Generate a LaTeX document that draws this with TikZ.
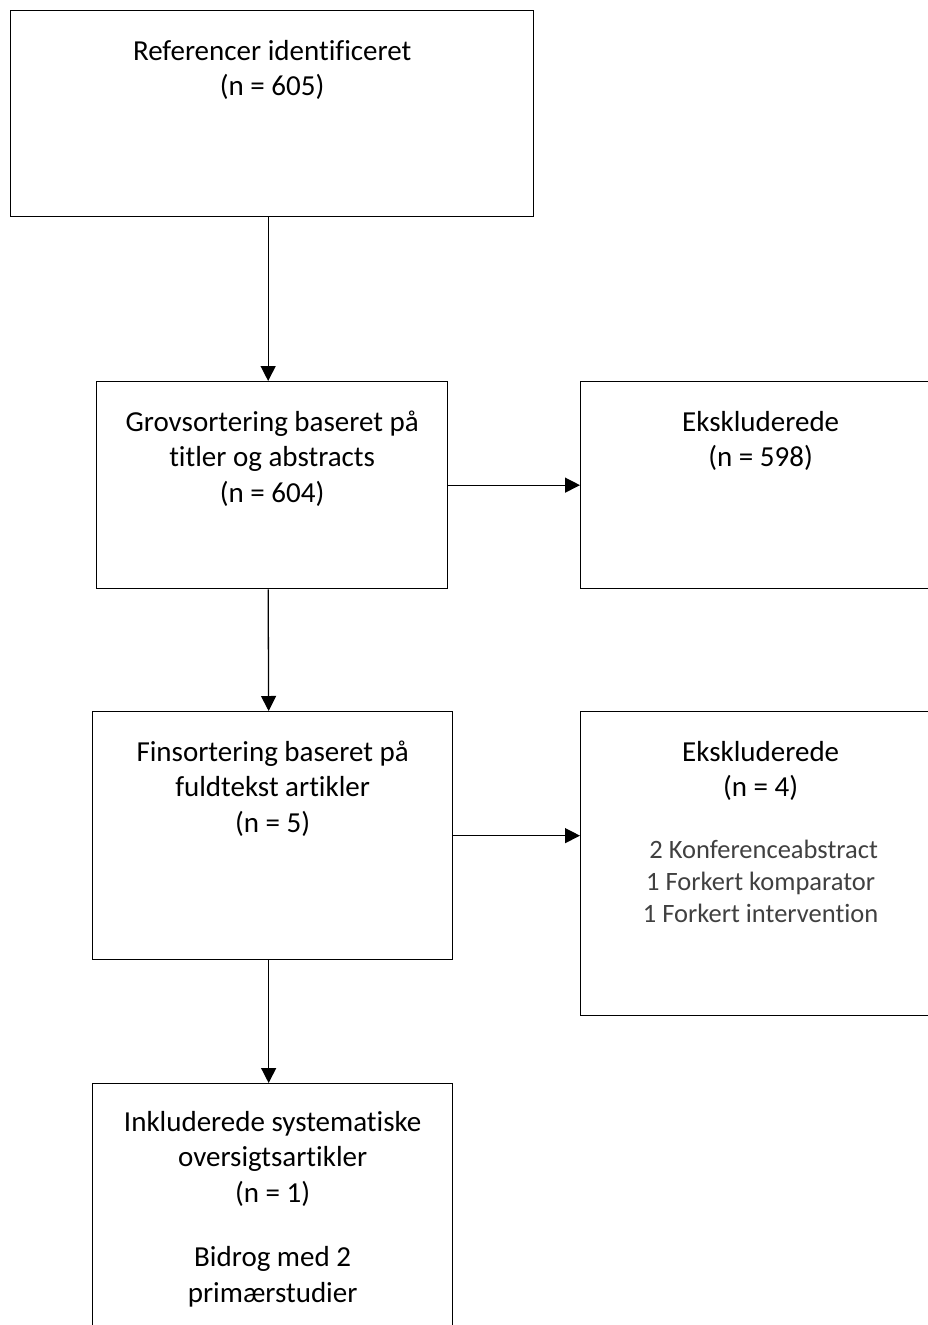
\documentclass[tikz,border=0pt]{standalone}
\usepackage{fontspec}
\setmainfont[Ligatures=NoCommon]{Carlito}
\usetikzlibrary{arrows.meta,positioning}
\definecolor{notegrey}{HTML}{404040}

\begin{document}
\begin{tikzpicture} [x=1pt, y=-1pt,
 box/.style = {shape=rectangle, draw, line width=1.3pt, anchor=north west, inner sep=0pt},
 txt/.style = {align=center, inner sep=0pt, anchor=north, font=\fontsize{29}{35.5}\selectfont},
 note/.style = {txt, text=notegrey, font=\fontsize{26.5}{32}\selectfont},
 arr/.style = {-{Triangle[length=15pt, width=15pt]}, line width=1.3pt}]
 \useasboundingbox (0,0) rectangle (928,1325);
 % boxes
 \node [box, minimum width=523pt, minimum height=206pt] (ident) at (10,10) {};
 \node [box, minimum width=351pt, minimum height=207pt] (grov) at (96,381) {};
 \node [box, minimum width=360pt, minimum height=207pt] (exkl1) at (580,381) {};
 \node [box, minimum width=360pt, minimum height=248pt] (fin) at (92,711) {};
 \node [box, minimum width=360pt, minimum height=304pt] (exkl2) at (580,711) {};
 \node [box, minimum width=360pt, minimum height=270pt] (inkl) at (92,1083) {};
 % texts
 \node [txt, below=25pt of ident.north] {\strut Referencer identificeret\\(n = 605)};
 \node [txt, below=25pt of grov.north] {\strut Grovsortering baseret på\\titler og abstracts\\(n = 604)};
 \node [txt, below=25pt of exkl1.north] {\strut Ekskluderede\\(n = 598)};
 \node [txt, below=25pt of fin.north] {\strut Finsortering baseret på\\fuldtekst artikler\\(n = 5)};
 \node [txt, below=25pt of exkl2.north] {\strut Ekskluderede\\(n = 4)};
 \node [note, below=124.6pt of exkl2.north] {\strut\ 2 Konferenceabstract\\1 Forkert komparator\\1 Forkert intervention};
 \node [txt, below=23pt of inkl.north] {\strut Inkluderede systematiske\\oversigtsartikler\\(n = 1)\\[29pt]Bidrog med 2\\primærstudier};
 % arrows
 \draw [arr] ([xshift=-4pt]ident.south) -- ([xshift=-4pt]grov.north);
 \draw [arr] ([xshift=-4pt]grov.south) -- ([xshift=-4pt]fin.north);
 \draw [arr] ([xshift=-4pt]fin.south) -- ([xshift=-4pt]inkl.north);
 \draw [arr] (grov.east) -- (exkl1.west);
 \draw [arr] (fin.east) -- (fin.east -| exkl2.west);
\end{tikzpicture}
\end{document}
